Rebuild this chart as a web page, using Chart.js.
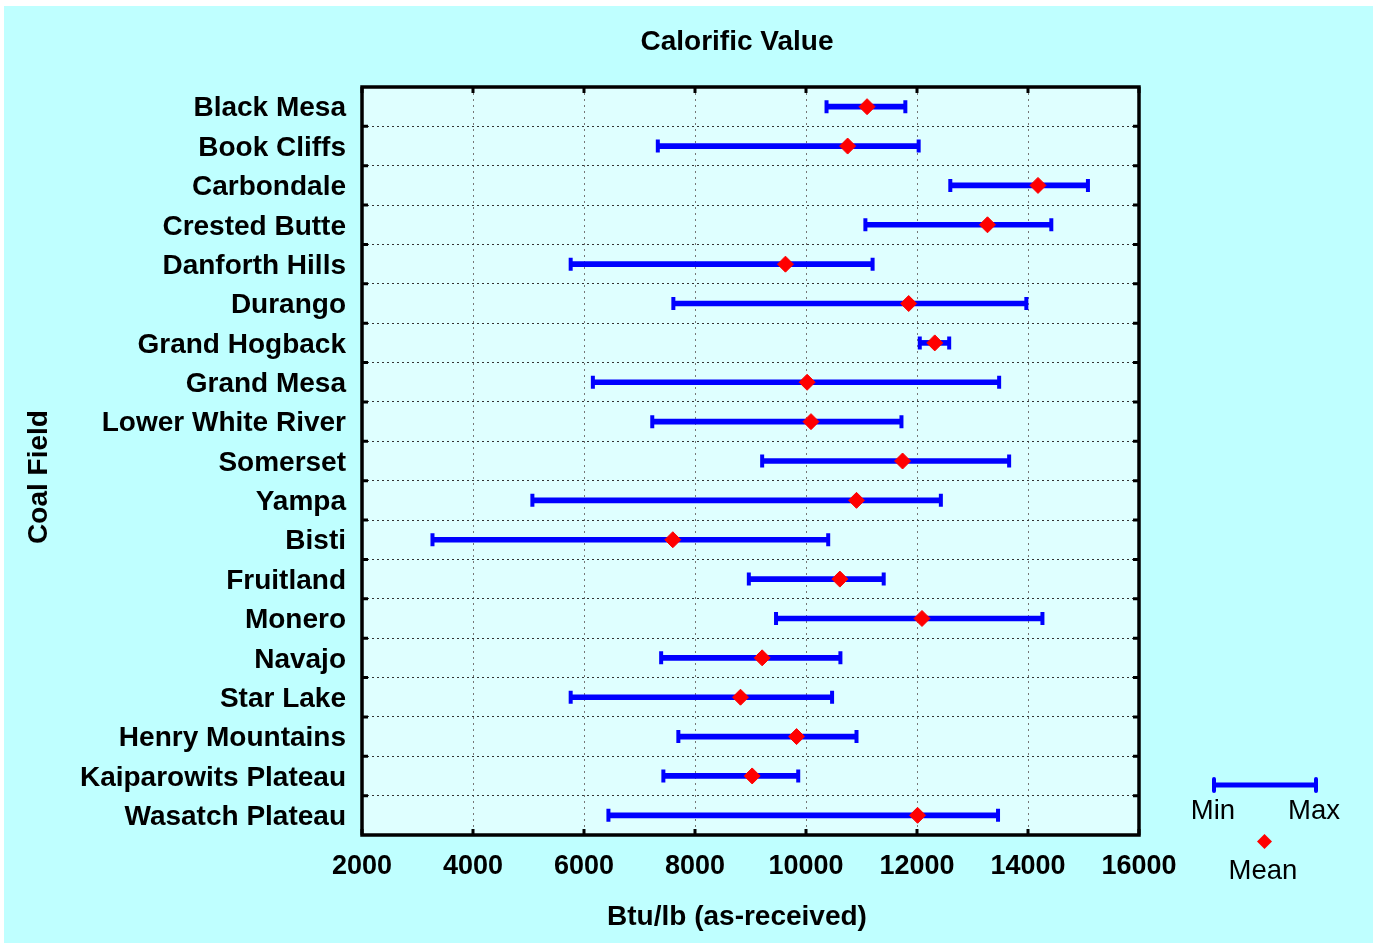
<!DOCTYPE html>
<html>
<head>
<meta charset="utf-8">
<title>Calorific Value</title>
<script src="https://cdn.jsdelivr.net/npm/chart.js@4"></script>
<style>
  html, body { margin: 0; padding: 0; background: #ffffff; }
  #wrap { width: 1377px; height: 945px; position: relative; }
</style>
</head>
<body>
<div id="wrap"><canvas id="chart" width="1377" height="945"></canvas></div>
<script>
// DATA

const fields = [
  "Black Mesa", "Book Cliffs", "Carbondale", "Crested Butte", "Danforth Hills",
  "Durango", "Grand Hogback", "Grand Mesa", "Lower White River", "Somerset",
  "Yampa", "Bisti", "Fruitland", "Monero", "Navajo", "Star Lake",
  "Henry Mountains", "Kaiparowits Plateau", "Wasatch Plateau"
];

const minVals = [10370, 7330, 12600, 11070, 5760, 7610, 12050, 6160, 7230, 9210,
  5070, 3270, 8970, 9460, 7390, 5760, 7700, 7430, 6440];
const maxVals = [11790, 12030, 15080, 14420, 11200, 13970, 12580, 13480, 11720, 13660,
  12430, 10400, 11400, 14260, 10620, 10470, 10910, 9860, 13460];
const meanVals = [11100, 10750, 14180, 13270, 9630, 11850, 12320, 10020, 10090, 11740,
  10910, 7600, 10610, 12090, 9210, 8820, 9830, 9030, 12010];

const xTicks = [2000, 4000, 6000, 8000, 10000, 12000, 14000, 16000];

const FONT = "'Liberation Sans', Arial, Helvetica, sans-serif";
const BLUE = "#0000ff";
const RED = "#ff0000";

// background, frame, titles and legend
const decor = {
  id: "decor",
  beforeDraw(chart) {
    const { ctx, chartArea: a } = chart;
    ctx.save();
    ctx.fillStyle = "#ffffff";
    ctx.fillRect(0, 0, chart.width, chart.height);
    ctx.fillStyle = "#bfffff";
    ctx.fillRect(4, 6, 1369, 937);
    ctx.fillStyle = "#dfffff";
    ctx.fillRect(a.left, a.top, a.right - a.left, a.bottom - a.top);
    ctx.restore();
  },
  afterDraw(chart) {
    const { ctx, chartArea: a } = chart;
    const xs = chart.scales.x;
    const ys = chart.scales.y;
    ctx.save();

    // frame
    ctx.strokeStyle = "#000";
    ctx.lineWidth = 3.5;
    ctx.strokeRect(a.left, a.top, a.right - a.left, a.bottom - a.top);

    // inward ticks
    ctx.lineWidth = 3;
    xTicks.forEach(v => {
      const px = xs.getPixelForValue(v);
      ctx.beginPath();
      ctx.moveTo(px, a.top); ctx.lineTo(px, a.top + 6);
      ctx.moveTo(px, a.bottom); ctx.lineTo(px, a.bottom - 6);
      ctx.stroke();
    });
    for (let i = 0; i < fields.length - 1; i++) {
      const py = (ys.getPixelForValue(i) + ys.getPixelForValue(i + 1)) / 2;
      ctx.beginPath();
      ctx.moveTo(a.left, py); ctx.lineTo(a.left + 6, py);
      ctx.moveTo(a.right, py); ctx.lineTo(a.right - 6, py);
      ctx.stroke();
    }

    // titles
    ctx.fillStyle = "#000";
    ctx.textAlign = "center";
    ctx.textBaseline = "middle";
    ctx.font = "bold 28px " + FONT;
    ctx.fillText("Calorific Value", 737, 42);
    ctx.fillText("Btu/lb (as-received)", 737, 917);
    ctx.save();
    ctx.translate(39, 477);
    ctx.rotate(-Math.PI / 2);
    ctx.fillText("Coal Field", 0, 0);
    ctx.restore();

    // legend
    ctx.strokeStyle = BLUE;
    ctx.lineWidth = 5;
    ctx.beginPath();
    ctx.moveTo(1214, 785); ctx.lineTo(1316, 785);
    ctx.stroke();
    ctx.lineWidth = 4;
    ctx.lineCap = "round";
    ctx.beginPath();
    ctx.moveTo(1214, 779); ctx.lineTo(1214, 791);
    ctx.moveTo(1316, 779); ctx.lineTo(1316, 791);
    ctx.stroke();
    ctx.fillStyle = RED;
    ctx.beginPath();
    ctx.moveTo(1264.5, 834); ctx.lineTo(1272, 841.5);
    ctx.lineTo(1264.5, 849); ctx.lineTo(1257, 841.5);
    ctx.closePath();
    ctx.fill();
    ctx.fillStyle = "#000";
    ctx.font = "27.5px " + FONT;
    ctx.fillText("Min", 1213, 811);
    ctx.fillText("Max", 1314, 811);
    ctx.fillText("Mean", 1263, 871);
    ctx.restore();
  }
};

new Chart(document.getElementById("chart"), {
  type: "bar",
  data: {
    labels: fields,
    datasets: [
      {
        type: "line",
        label: "Mean",
        data: meanVals,
        showLine: false,
        pointStyle: "rectRot",
        pointRadius: 8,
        pointBackgroundColor: RED,
        pointBorderColor: RED,
        pointBorderWidth: 1,
        order: 0
      },
      {
        type: "line",
        label: "Min",
        data: minVals,
        showLine: false,
        pointStyle: "line",
        pointRotation: 90,
        pointRadius: 6.5,
        pointBorderColor: BLUE,
        pointBorderWidth: 4,
        order: 1
      },
      {
        type: "line",
        label: "Max",
        data: maxVals,
        showLine: false,
        pointStyle: "line",
        pointRotation: 90,
        pointRadius: 6.5,
        pointBorderColor: BLUE,
        pointBorderWidth: 4,
        order: 1
      },
      {
        label: "Range",
        data: minVals.map((v, i) => [v, maxVals[i]]),
        backgroundColor: BLUE,
        barThickness: 5,
        borderSkipped: false,
        order: 2
      }
    ]
  },
  options: {
    indexAxis: "y",
    responsive: false,
    animation: false,
    events: [],
    layout: { padding: { top: 87, right: 238, bottom: 0, left: 0 } },
    plugins: {
      legend: { display: false },
      title: { display: false },
      tooltip: { enabled: false }
    },
    scales: {
      x: {
        type: "linear",
        min: 2000,
        max: 16000,
        afterFit: s => { s.height = 110; },
        afterBuildTicks: s => { s.ticks = xTicks.map(v => ({ value: v })); },
        ticks: {
          color: "#000",
          font: { family: FONT, size: 27, weight: "bold" },
          padding: 15,
          callback: v => String(v)
        },
        grid: { color: "#777", lineWidth: 1, drawTicks: false },
        border: { display: false, dash: [2, 4] }
      },
      y: {
        type: "category",
        afterFit: s => { s.width = 362; },
        ticks: {
          color: "#000",
          font: { family: FONT, size: 28, weight: "bold" },
          padding: 16,
          labelOffset: 2
        },
        grid: { color: "#333", lineWidth: 1, drawTicks: false, offset: true },
        border: { display: false, dash: [2, 3] }
      }
    }
  },
  plugins: [decor]
});
</script>
</body>
</html>
